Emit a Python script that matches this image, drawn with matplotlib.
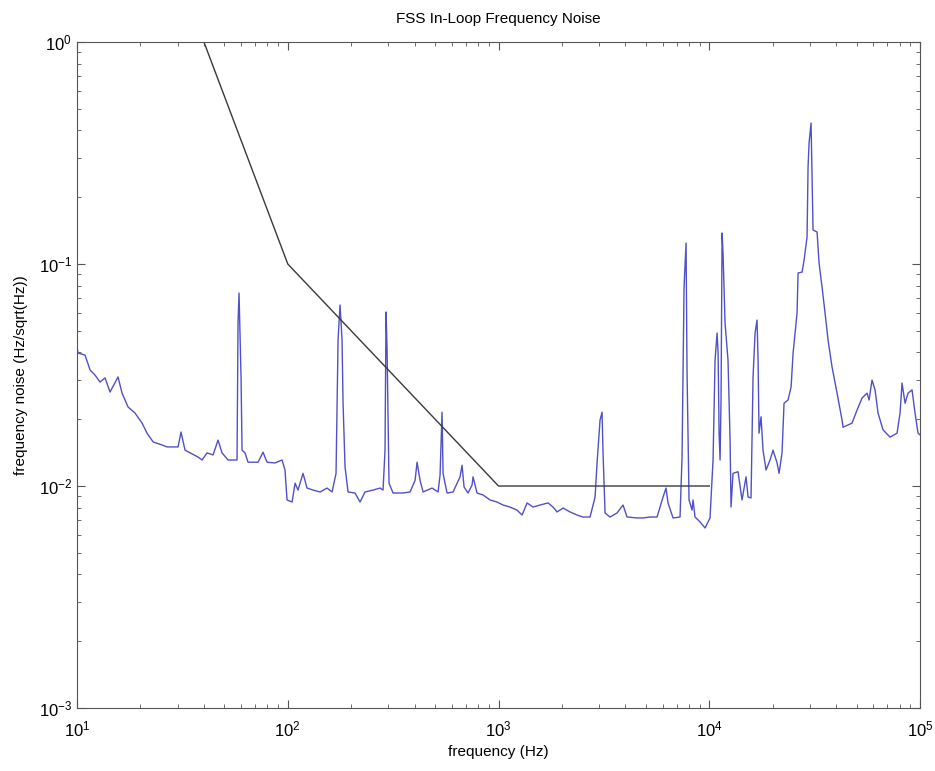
import numpy as np
import matplotlib
matplotlib.use("Agg")
import matplotlib.pyplot as plt

plt.rcParams['font.family'] = ['Liberation Sans', 'DejaVu Sans']
plt.rcParams['mathtext.fontset'] = 'custom'
plt.rcParams['mathtext.rm'] = 'Liberation Sans'

freq = [10.0, 10.11, 10.91, 11.53, 12.17, 12.86, 13.58, 14.34, 15.65, 16.35,
        17.46, 18.85, 20.35, 21.49, 22.95, 25.31, 26.73, 30.15, 31.15, 32.54,
        34.38, 37.52, 39.19, 41.39, 44.19, 46.67, 48.75, 52.06, 57.43, 58.06,
        58.70, 60.0, 60.66, 62.68, 64.76, 72.27, 76.3, 79.7, 87.0, 93.9,
        97.0, 99.2, 104.8, 108.3, 111.8, 118.1, 123.4, 131.8, 142.2, 153.6,
        162.2, 169.4, 173.2, 177.0, 180.9, 182.9, 186.9, 193.2, 208.5, 220.2,
        232.6, 253.9, 274.0, 283.1, 289.3, 292.5, 295.7, 302.2, 315.8, 352.3,
        380.4, 401.7, 410.6, 424.3, 438.5, 483.6, 516.4, 527.8, 539.5, 545.4,
        569.7, 608.3, 656.7, 671.2, 686.1, 716.7, 748.7, 756.9, 790.7, 844.4,
        911.4, 983.8, 1050, 1133, 1224, 1293, 1366, 1458, 1574, 1718,
        1814, 1895, 2023, 2184, 2358, 2517, 2718, 2871, 2934, 3031,
        3098, 3132, 3202, 3382, 3650, 3897, 4072, 4542, 4850, 5236,
        5651, 6034, 6233, 6371, 6730, 7264, 7425, 7590, 7758, 7843,
        8016, 8281, 8372, 8557, 9040, 9546, 10080, 10420, 10650, 10890,
        11010, 11130, 11250, 11370, 11500, 11620, 11880, 12270, 12550, 12680,
        12960, 13690, 14300, 14940, 15280, 15780, 16130, 16490, 16850, 17040,
        17220, 17600, 17990, 18590, 19420, 20070, 20970, 21430, 22140, 22630,
        23640, 24440, 24980, 26090, 26380, 27560, 28170, 29100, 29420, 29740,
        30400, 30730, 31070, 32460, 33180, 34280, 35420, 36600, 38230, 40390,
        42660, 43120, 47570, 50250, 53070, 56050, 57290, 59190, 61160, 63200,
        66760, 72070, 77800, 80370, 82150, 84890, 87720, 91620, 94690, 97840,
        100000]
noise = [0.0423, 0.0397, 0.0389, 0.0333, 0.0316, 0.0294, 0.0307, 0.0265, 0.0310, 0.0262,
         0.0227, 0.0213, 0.0192, 0.0173, 0.0158, 0.0153, 0.0150, 0.0150, 0.0175, 0.0145,
         0.0141, 0.0135, 0.0131, 0.0141, 0.0138, 0.0161, 0.0141, 0.0131, 0.0131, 0.0542,
         0.0740, 0.0310, 0.0145, 0.0141, 0.0128, 0.0128, 0.0142, 0.0128, 0.0127, 0.0131,
         0.0118, 0.00865, 0.00847, 0.0103, 0.00959, 0.0114, 0.00979, 0.00959, 0.00940, 0.00979,
         0.00940, 0.0114, 0.0455, 0.0654, 0.0455, 0.0236, 0.0122, 0.00940, 0.00930, 0.00847,
         0.00940, 0.00959, 0.00979, 0.00959, 0.0145, 0.0608, 0.0423, 0.0103, 0.00930, 0.00930,
         0.00940, 0.0106, 0.0128, 0.0106, 0.00940, 0.00979, 0.00940, 0.0112, 0.0215, 0.0114,
         0.00930, 0.00940, 0.0110, 0.0124, 0.00990, 0.00930, 0.0101, 0.0110, 0.00930, 0.00911,
         0.00865, 0.00847, 0.00821, 0.00804, 0.00779, 0.00740, 0.00839, 0.00804, 0.00821, 0.00839,
         0.00804, 0.00764, 0.00796, 0.00764, 0.00740, 0.00725, 0.00725, 0.00892, 0.0127, 0.0198,
         0.0215, 0.0141, 0.00756, 0.00725, 0.00756, 0.00821, 0.00725, 0.00718, 0.00718, 0.00725,
         0.00725, 0.00892, 0.00979, 0.00839, 0.00718, 0.00725, 0.0135, 0.0788, 0.1243, 0.0323,
         0.00865, 0.00779, 0.00865, 0.00725, 0.00689, 0.00647, 0.00718, 0.0131, 0.0369, 0.0489,
         0.0397, 0.0173, 0.0131, 0.0244, 0.1379, 0.1121, 0.0542, 0.0369, 0.0161, 0.00804,
         0.0114, 0.0116, 0.00865, 0.0110, 0.00892, 0.00884, 0.0310, 0.0489, 0.0559, 0.0369,
         0.0173, 0.0205, 0.0145, 0.0118, 0.0131, 0.0145, 0.0127, 0.0114, 0.0141, 0.0236,
         0.0244, 0.0279, 0.0397, 0.0602, 0.0911, 0.0920, 0.1042, 0.1323, 0.2735, 0.3508,
         0.4316, 0.2465, 0.1423, 0.1394, 0.1010, 0.0788, 0.0602, 0.0455, 0.0344, 0.0262,
         0.0198, 0.0184, 0.0192, 0.0220, 0.0249, 0.0262, 0.0244, 0.0300, 0.0271, 0.0213,
         0.0179, 0.0166, 0.0173, 0.0213, 0.0291, 0.0236, 0.0262, 0.0271, 0.0213, 0.0173,
         0.0170]

# requirement line
req_freq = [40, 100, 1000, 10000]
req_noise = [1.0, 0.1, 0.01, 0.01]

fig = plt.figure(figsize=(9.35, 7.71), dpi=100)
ax = fig.add_axes([0.0824, 0.0817, 0.9016, 0.8638])

ax.loglog(freq, noise, color='#5050c8', linewidth=1.0)
ax.loglog(req_freq, req_noise, color='#3a3a3a', linewidth=1.0)

ax.set_xlim(10, 1e5)
ax.set_ylim(1e-3, 1)

ax.tick_params(which='both', direction='in', top=True, right=True,
               colors='#555555', labelcolor='black', labelsize=12)
ax.tick_params(which='major', length=6)
ax.tick_params(which='minor', length=3)
ax.tick_params(axis='x', pad=8)
for s in ax.spines.values():
    s.set_color('#555555')

ax.set_title('FSS In-Loop Frequency Noise', fontsize=11, pad=14)
ax.set_xlabel('frequency (Hz)', fontsize=11)
ax.set_ylabel('frequency noise (Hz/sqrt(Hz))', fontsize=11, labelpad=8)

fig.savefig('out.png', dpi=100)
